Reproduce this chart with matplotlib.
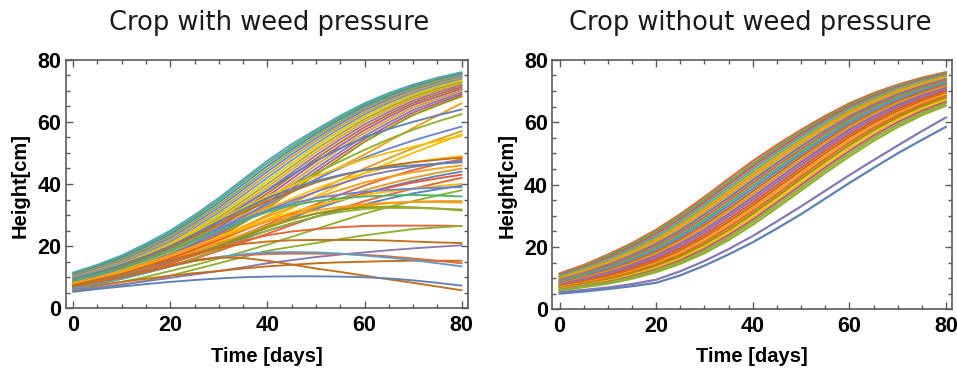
import matplotlib
matplotlib.use("Agg")
import matplotlib.pyplot as plt
from matplotlib.ticker import MultipleLocator

# ---------------- data ----------------
time_days = [0, 5, 10, 15, 20, 25, 30, 35, 40, 45, 50, 55, 60, 65, 70, 75, 80]

# Crop with weed pressure (height in cm at each time point)
with_weeds = [
    [11.5, 14.0, 17.0, 20.8, 25.0, 30.0, 35.5, 41.5, 47.5, 52.8, 57.5, 62.0, 66.0, 69.3, 72.0, 74.2, 76.0],
    [11.2, 13.7, 16.6, 20.3, 24.4, 29.4, 34.8, 40.8, 46.7, 52.0, 56.9, 61.4, 65.5, 68.8, 71.6, 73.8, 75.7],
    [10.9, 13.4, 16.2, 19.8, 23.8, 28.7, 34.0, 39.9, 45.8, 51.2, 56.2, 60.8, 65.0, 68.3, 71.2, 73.5, 75.4],
    [10.6, 13.0, 15.8, 19.3, 23.2, 28.0, 33.2, 39.0, 44.9, 50.4, 55.5, 60.1, 64.4, 67.8, 70.8, 73.1, 75.0],
    [10.3, 12.7, 15.4, 18.8, 22.6, 27.3, 32.4, 38.2, 44.0, 49.5, 54.7, 59.4, 63.8, 67.3, 70.3, 72.6, 74.6],
    [10.0, 12.4, 15.0, 18.3, 22.0, 26.6, 31.6, 37.3, 43.0, 48.6, 53.9, 58.7, 63.1, 66.7, 69.8, 72.2, 74.2],
    [9.7, 12.0, 14.6, 17.8, 21.4, 25.9, 30.8, 36.4, 42.0, 47.6, 53.0, 57.9, 62.4, 66.1, 69.3, 71.8, 73.8],
    [9.4, 11.7, 14.2, 17.3, 20.8, 25.2, 30.0, 35.5, 41.0, 46.6, 52.1, 57.1, 61.7, 65.4, 68.7, 71.2, 73.3],
    [9.1, 11.4, 13.8, 16.8, 20.2, 24.5, 29.2, 34.6, 40.0, 45.6, 51.2, 56.2, 60.9, 64.7, 68.1, 70.7, 72.8],
    [8.8, 11.0, 13.4, 16.3, 19.6, 23.8, 28.4, 33.7, 39.0, 44.6, 50.2, 55.3, 60.1, 64.0, 67.5, 70.1, 72.3],
    [8.6, 10.7, 13.0, 15.8, 19.0, 23.1, 27.6, 32.8, 38.0, 43.6, 49.2, 54.4, 59.2, 63.2, 66.8, 69.5, 71.8],
    [8.3, 10.4, 12.6, 15.3, 18.4, 22.4, 26.8, 31.9, 37.0, 42.6, 48.2, 53.4, 58.3, 62.4, 66.1, 68.8, 71.2],
    [8.1, 10.1, 12.2, 14.9, 17.9, 21.8, 26.0, 31.0, 36.0, 41.6, 47.2, 52.4, 57.4, 61.6, 65.4, 68.1, 70.6],
    [7.9, 9.8, 11.8, 14.5, 17.4, 21.1, 25.2, 30.1, 35.0, 40.5, 46.1, 51.4, 56.5, 60.7, 64.6, 67.4, 70.0],
    [7.7, 9.6, 11.5, 14.1, 16.9, 20.5, 24.5, 29.2, 34.0, 39.5, 45.0, 50.3, 55.5, 59.8, 63.8, 66.7, 69.4],
    [7.5, 9.3, 11.2, 13.7, 16.4, 19.9, 23.8, 28.3, 33.0, 38.5, 44.0, 49.3, 54.5, 58.9, 63.0, 66.0, 68.8],
    [7.3, 9.1, 10.9, 13.3, 15.9, 19.3, 23.1, 27.5, 32.2, 37.6, 43.0, 48.3, 53.6, 58.0, 62.2, 65.3, 68.2],
    [8.0, 9.9, 12.0, 14.6, 17.5, 21.1, 25.0, 29.0, 33.0, 37.3, 41.5, 45.5, 49.5, 53.8, 58.0, 62.0, 66.0],
    [9.0, 11.1, 13.5, 16.3, 19.5, 23.6, 28.0, 33.0, 38.0, 42.9, 47.5, 51.5, 55.0, 57.7, 60.0, 62.1, 64.0],
    [8.5, 10.5, 12.8, 15.6, 18.8, 22.6, 26.8, 31.1, 35.5, 39.6, 43.5, 47.3, 51.0, 54.4, 57.5, 60.1, 62.5],
    [8.0, 9.9, 12.0, 14.7, 17.8, 21.5, 25.5, 29.5, 33.5, 37.6, 41.5, 45.1, 48.5, 51.4, 54.0, 56.3, 58.5],
    [7.5, 9.2, 11.0, 13.3, 16.0, 19.1, 22.5, 26.2, 30.0, 33.8, 37.5, 41.3, 45.0, 48.3, 51.5, 54.3, 57.0],
    [7.2, 8.9, 10.8, 13.0, 15.5, 18.4, 21.5, 25.0, 28.5, 32.2, 36.0, 39.8, 43.5, 46.8, 50.0, 53.0, 56.0],
    [9.5, 11.6, 14.0, 17.1, 20.5, 24.5, 28.5, 32.3, 36.0, 39.4, 42.5, 45.4, 48.0, 50.1, 52.0, 53.8, 55.5],
    [8.5, 10.4, 12.5, 15.1, 18.0, 21.4, 25.0, 28.5, 32.0, 35.3, 38.5, 41.2, 43.5, 45.4, 47.0, 48.1, 49.0],
    [9.0, 11.1, 13.5, 16.4, 19.5, 23.2, 27.0, 30.8, 34.5, 37.6, 40.5, 42.7, 44.5, 45.9, 47.0, 47.8, 48.5],
    [7.0, 8.7, 10.5, 12.6, 15.0, 17.6, 20.5, 23.7, 27.0, 30.3, 33.5, 36.6, 39.5, 42.1, 44.5, 46.4, 48.0],
    [8.0, 9.9, 12.0, 14.6, 17.5, 20.9, 24.5, 28.0, 31.5, 34.6, 37.5, 40.1, 42.5, 44.1, 45.5, 46.6, 47.5],
    [9.5, 11.6, 14.0, 16.8, 20.0, 23.9, 28.0, 31.8, 35.5, 38.4, 41.0, 42.9, 44.5, 45.3, 46.0, 46.5, 47.0],
    [7.8, 9.6, 11.5, 13.9, 16.5, 19.6, 23.0, 26.3, 29.5, 32.6, 35.5, 38.1, 40.5, 42.3, 43.8, 45.0, 46.0],
    [7.0, 8.6, 10.3, 12.4, 14.8, 17.5, 20.5, 23.5, 26.5, 29.5, 32.5, 35.3, 38.0, 40.1, 42.0, 43.6, 45.0],
    [6.8, 8.4, 10.0, 12.1, 14.5, 17.1, 20.0, 23.0, 26.0, 29.0, 32.0, 34.6, 37.0, 39.1, 41.0, 42.6, 44.0],
    [7.5, 9.2, 11.0, 13.4, 16.0, 18.9, 22.0, 25.1, 28.0, 30.6, 33.0, 35.1, 37.0, 38.8, 40.5, 41.8, 43.0],
    [6.5, 8.0, 9.5, 11.4, 13.5, 15.9, 18.5, 21.2, 24.0, 26.8, 29.5, 32.1, 34.5, 36.6, 38.5, 40.3, 42.0],
    [8.0, 9.9, 12.0, 14.4, 17.0, 19.9, 23.0, 25.9, 28.5, 30.9, 33.0, 34.9, 36.5, 37.6, 38.5, 39.3, 40.0],
    [7.0, 8.7, 10.5, 12.6, 15.0, 17.4, 20.0, 22.5, 25.0, 27.3, 29.5, 31.6, 33.5, 35.3, 37.0, 38.3, 39.5],
    [8.5, 10.5, 12.8, 15.5, 18.5, 22.0, 25.5, 28.6, 31.5, 33.7, 35.5, 36.6, 37.5, 38.1, 38.5, 38.8, 39.0],
    [6.0, 7.2, 8.5, 10.1, 12.0, 13.9, 16.0, 18.2, 20.5, 23.0, 25.5, 28.0, 30.5, 32.6, 34.5, 36.3, 38.0],
    [9.0, 10.9, 13.0, 15.6, 18.5, 21.7, 25.0, 28.1, 31.0, 33.1, 34.5, 35.4, 36.0, 36.3, 36.5, 36.3, 36.0],
    [7.5, 9.2, 11.0, 13.1, 15.5, 18.2, 21.0, 23.8, 26.5, 28.7, 30.5, 31.9, 33.0, 33.8, 34.3, 34.5, 34.5],
    [8.2, 10.0, 12.0, 14.4, 17.0, 19.7, 22.5, 25.3, 28.0, 30.0, 31.5, 32.6, 33.5, 34.0, 34.2, 34.2, 34.0],
    [7.0, 8.4, 10.0, 12.1, 14.5, 17.2, 20.0, 23.0, 26.0, 28.5, 30.5, 31.8, 32.5, 32.7, 32.5, 32.1, 31.5],
    [6.5, 7.9, 9.5, 11.4, 13.5, 16.2, 19.0, 22.0, 25.0, 27.4, 29.5, 31.0, 32.0, 32.3, 32.3, 32.1, 31.8],
    [7.0, 8.4, 10.0, 12.2, 14.5, 17.0, 19.5, 21.7, 23.5, 24.7, 25.5, 26.1, 26.5, 26.6, 26.6, 26.6, 26.5],
    [5.5, 6.4, 7.5, 8.9, 10.5, 12.5, 14.5, 16.5, 18.5, 19.8, 21.0, 22.3, 23.5, 24.5, 25.5, 26.0, 26.5],
    [7.5, 9.2, 11.0, 13.3, 15.5, 17.6, 19.5, 20.7, 21.5, 21.9, 22.0, 22.0, 22.0, 21.8, 21.5, 21.2, 21.0],
    [5.8, 6.7, 7.7, 8.7, 9.8, 10.9, 12.0, 13.2, 14.5, 15.5, 16.5, 17.3, 18.0, 18.7, 19.3, 19.8, 20.3],
    [6.5, 7.5, 8.5, 9.5, 10.5, 11.3, 12.0, 12.8, 13.5, 14.0, 14.5, 14.8, 15.0, 15.2, 15.3, 15.3, 15.3],
    [7.0, 8.4, 10.0, 12.0, 14.0, 15.5, 16.5, 17.1, 17.5, 17.6, 17.6, 17.5, 17.2, 16.7, 16.0, 15.3, 14.5],
    [6.5, 7.9, 9.5, 11.5, 13.5, 15.2, 16.5, 17.4, 18.0, 18.1, 18.0, 17.6, 17.0, 16.3, 15.5, 14.5, 13.5],
    [7.0, 8.4, 10.0, 11.8, 13.6, 15.3, 16.3, 16.2, 15.3, 14.1, 12.8, 11.7, 10.5, 9.3, 8.2, 7.0, 5.8],
    [5.3, 6.2, 7.0, 7.8, 8.5, 9.1, 9.6, 10.0, 10.2, 10.3, 10.3, 10.2, 10.0, 9.6, 9.0, 8.2, 7.3],
]

# Crop without weed pressure
without_weeds = [
    [11.5, 14.2, 17.5, 21.2, 25.5, 30.5, 36.0, 41.8, 47.5, 52.7, 57.5, 62.0, 66.0, 69.3, 72.0, 74.2, 76.0],
    [11.2, 13.8, 17.0, 20.7, 24.9, 29.8, 35.2, 40.9, 46.6, 51.9, 56.8, 61.4, 65.5, 68.8, 71.6, 73.9, 75.7],
    [10.9, 13.5, 16.5, 20.1, 24.2, 29.0, 34.4, 40.1, 45.8, 51.1, 56.1, 60.8, 65.0, 68.3, 71.2, 73.6, 75.4],
    [10.6, 13.1, 16.0, 19.5, 23.5, 28.2, 33.6, 39.2, 44.9, 50.3, 55.4, 60.1, 64.4, 67.8, 70.8, 73.2, 75.1],
    [10.3, 12.7, 15.5, 18.9, 22.8, 27.5, 32.8, 38.4, 44.0, 49.5, 54.6, 59.4, 63.8, 67.3, 70.4, 72.8, 74.8],
    [10.0, 12.4, 15.1, 18.4, 22.2, 26.8, 32.0, 37.5, 43.1, 48.6, 53.8, 58.7, 63.2, 66.8, 69.9, 72.4, 74.5],
    [9.7, 12.0, 14.6, 17.8, 21.5, 26.0, 31.2, 36.7, 42.3, 47.8, 53.0, 58.0, 62.5, 66.2, 69.4, 72.0, 74.1],
    [9.4, 11.6, 14.2, 17.3, 20.9, 25.3, 30.4, 35.8, 41.4, 46.9, 52.2, 57.2, 61.8, 65.6, 68.9, 71.5, 73.7],
    [9.1, 11.3, 13.7, 16.7, 20.2, 24.5, 29.5, 34.9, 40.5, 46.0, 51.3, 56.4, 61.1, 65.0, 68.4, 71.0, 73.3],
    [8.9, 11.0, 13.3, 16.2, 19.6, 23.8, 28.7, 34.0, 39.6, 45.1, 50.5, 55.6, 60.4, 64.4, 67.9, 70.5, 72.9],
    [8.6, 10.6, 12.9, 15.7, 19.0, 23.1, 27.9, 33.2, 38.7, 44.3, 49.7, 54.9, 59.7, 63.8, 67.3, 70.0, 72.5],
    [8.4, 10.3, 12.5, 15.2, 18.4, 22.4, 27.1, 32.3, 37.8, 43.4, 48.9, 54.1, 59.0, 63.1, 66.7, 69.5, 72.0],
    [8.1, 10.0, 12.1, 14.7, 17.8, 21.7, 26.3, 31.5, 36.9, 42.5, 48.1, 53.3, 58.3, 62.5, 66.1, 69.0, 71.5],
    [7.9, 9.7, 11.7, 14.2, 17.2, 21.0, 25.5, 30.6, 36.0, 41.6, 47.2, 52.5, 57.6, 61.8, 65.5, 68.5, 71.0],
    [7.7, 9.4, 11.3, 13.7, 16.6, 20.3, 24.7, 29.8, 35.1, 40.7, 46.3, 51.7, 56.8, 61.1, 64.9, 67.9, 70.5],
    [7.5, 9.1, 10.9, 13.2, 16.0, 19.6, 23.9, 28.9, 34.2, 39.8, 45.4, 50.9, 56.0, 60.4, 64.3, 67.4, 70.0],
    [7.3, 8.8, 10.5, 12.7, 15.4, 18.9, 23.1, 28.0, 33.3, 38.9, 44.5, 50.0, 55.2, 59.7, 63.6, 66.8, 69.5],
    [7.1, 8.5, 10.1, 12.2, 14.8, 18.2, 22.3, 27.1, 32.4, 38.0, 43.6, 49.1, 54.4, 59.0, 62.9, 66.2, 69.0],
    [6.9, 8.2, 9.8, 11.8, 14.3, 17.5, 21.5, 26.3, 31.5, 37.0, 42.7, 48.2, 53.5, 58.2, 62.2, 65.6, 68.4],
    [6.7, 8.0, 9.5, 11.4, 13.8, 16.9, 20.8, 25.4, 30.6, 36.1, 41.8, 47.3, 52.6, 57.4, 61.5, 65.0, 67.8],
    [6.5, 7.7, 9.1, 11.0, 13.3, 16.3, 20.1, 24.6, 29.7, 35.2, 40.8, 46.4, 51.7, 56.6, 60.8, 64.3, 67.2],
    [6.3, 7.5, 8.8, 10.6, 12.8, 15.7, 19.4, 23.8, 28.8, 34.3, 39.9, 45.5, 50.8, 55.7, 60.0, 63.6, 66.6],
    [6.2, 7.3, 8.5, 10.2, 12.4, 15.2, 18.7, 23.0, 28.0, 33.4, 39.0, 44.6, 49.9, 54.9, 59.2, 62.9, 66.0],
    [6.0, 7.1, 8.2, 9.8, 11.9, 14.6, 18.0, 22.2, 27.1, 32.5, 38.1, 43.7, 49.0, 54.0, 58.4, 62.2, 65.3],
    [5.5, 6.2, 7.0, 8.1, 9.5, 12.2, 15.5, 19.3, 23.5, 28.2, 33.0, 38.0, 43.0, 47.8, 52.5, 57.1, 61.5],
    [5.0, 5.7, 6.5, 7.4, 8.5, 10.9, 14.0, 17.6, 21.5, 25.9, 30.5, 35.5, 40.5, 45.3, 50.0, 54.3, 58.5],
]

titles = ["Crop with weed pressure", "Crop without weed pressure"]
x_label = "Time [days]"
y_label = "Height[cm]"

# ---------------- style ----------------
palette = ['#5E81B5', '#E19C24', '#8FB032', '#EB6235', '#8778B3', '#C56E1A',
           '#5D9EC7', '#FFBF00', '#A5609D', '#929600', '#E95536', '#6685D9',
           '#F89F13', '#BC5B80', '#47B66D']

left_colors = [6, 14, 0, 2, 11, 1, 6, 7, 2, 12, 4, 5, 8, 1, 4, 13, 9,
               12, 0, 2, 11, 1, 7, 7, 7, 5, 3, 4, 0, 12, 1, 0, 10, 3, 7, 0,
               11, 2, 14, 1, 12, 9, 2,
               3, 2, 5, 4, 5, 3, 6, 5, 0]
right_colors = [3, 14, 10, 6, 2, 1, 12, 0, 3, 14, 11, 5, 1, 8, 4, 10, 5,
                12, 3, 9, 7, 13, 2, 2, 4, 0]

frame_col = '#5a5a5a'

fig = plt.figure(figsize=(9.57, 3.72), dpi=100)
ax_rects = [[0.0687, 0.1712, 0.4204, 0.6683],
            [0.5771, 0.1685, 0.4180, 0.6710]]
datasets = [with_weeds, without_weeds]
color_idx = [left_colors, right_colors]
line_w = [1.35, 1.6]
title_x = [269 / 957, 750 / 957]
ylab_x = [20 / 957, 507 / 957]
xlab_x = [267 / 957, 752 / 957]

for k in range(2):
    ax = fig.add_axes(ax_rects[k])
    for i, series in enumerate(datasets[k]):
        ax.plot(time_days, series, color=palette[color_idx[k][i % len(color_idx[k])]],
                lw=line_w[k], solid_capstyle='round', solid_joinstyle='round')
    ax.set_xlim(-1.5, 81.3)
    ax.set_ylim(0, 80)
    ax.xaxis.set_major_locator(MultipleLocator(20))
    ax.xaxis.set_minor_locator(MultipleLocator(5))
    ax.yaxis.set_major_locator(MultipleLocator(20))
    ax.yaxis.set_minor_locator(MultipleLocator(5))
    ax.tick_params(which='both', direction='in', top=True, right=True,
                   color=frame_col, width=1.0)
    ax.tick_params(which='major', length=5, labelsize=15.5)
    ax.tick_params(which='minor', length=2.8)
    ax.tick_params(axis='x', which='major', pad=5)
    ax.tick_params(axis='y', which='major', pad=3)
    for lab in ax.get_xticklabels() + ax.get_yticklabels():
        lab.set_fontfamily('Liberation Sans')
        lab.set_fontweight('bold')
    for sp in ax.spines.values():
        sp.set_color(frame_col)
        sp.set_linewidth(1.2)
    fig.text(title_x[k], 1 - 23 / 372, titles[k], ha='center', va='center',
             fontsize=18.5, family='DejaVu Sans', color='#1a1a1a')
    fig.text(xlab_x[k], 1 - 357 / 372, x_label, ha='center', va='center',
             fontsize=14.5, family='Liberation Sans', fontweight='bold')
    fig.text(ylab_x[k], 1 - 185 / 372, y_label, ha='center', va='center',
             rotation=90, fontsize=14.5, family='Liberation Sans', fontweight='bold')

fig.savefig('out.png', dpi=100)
